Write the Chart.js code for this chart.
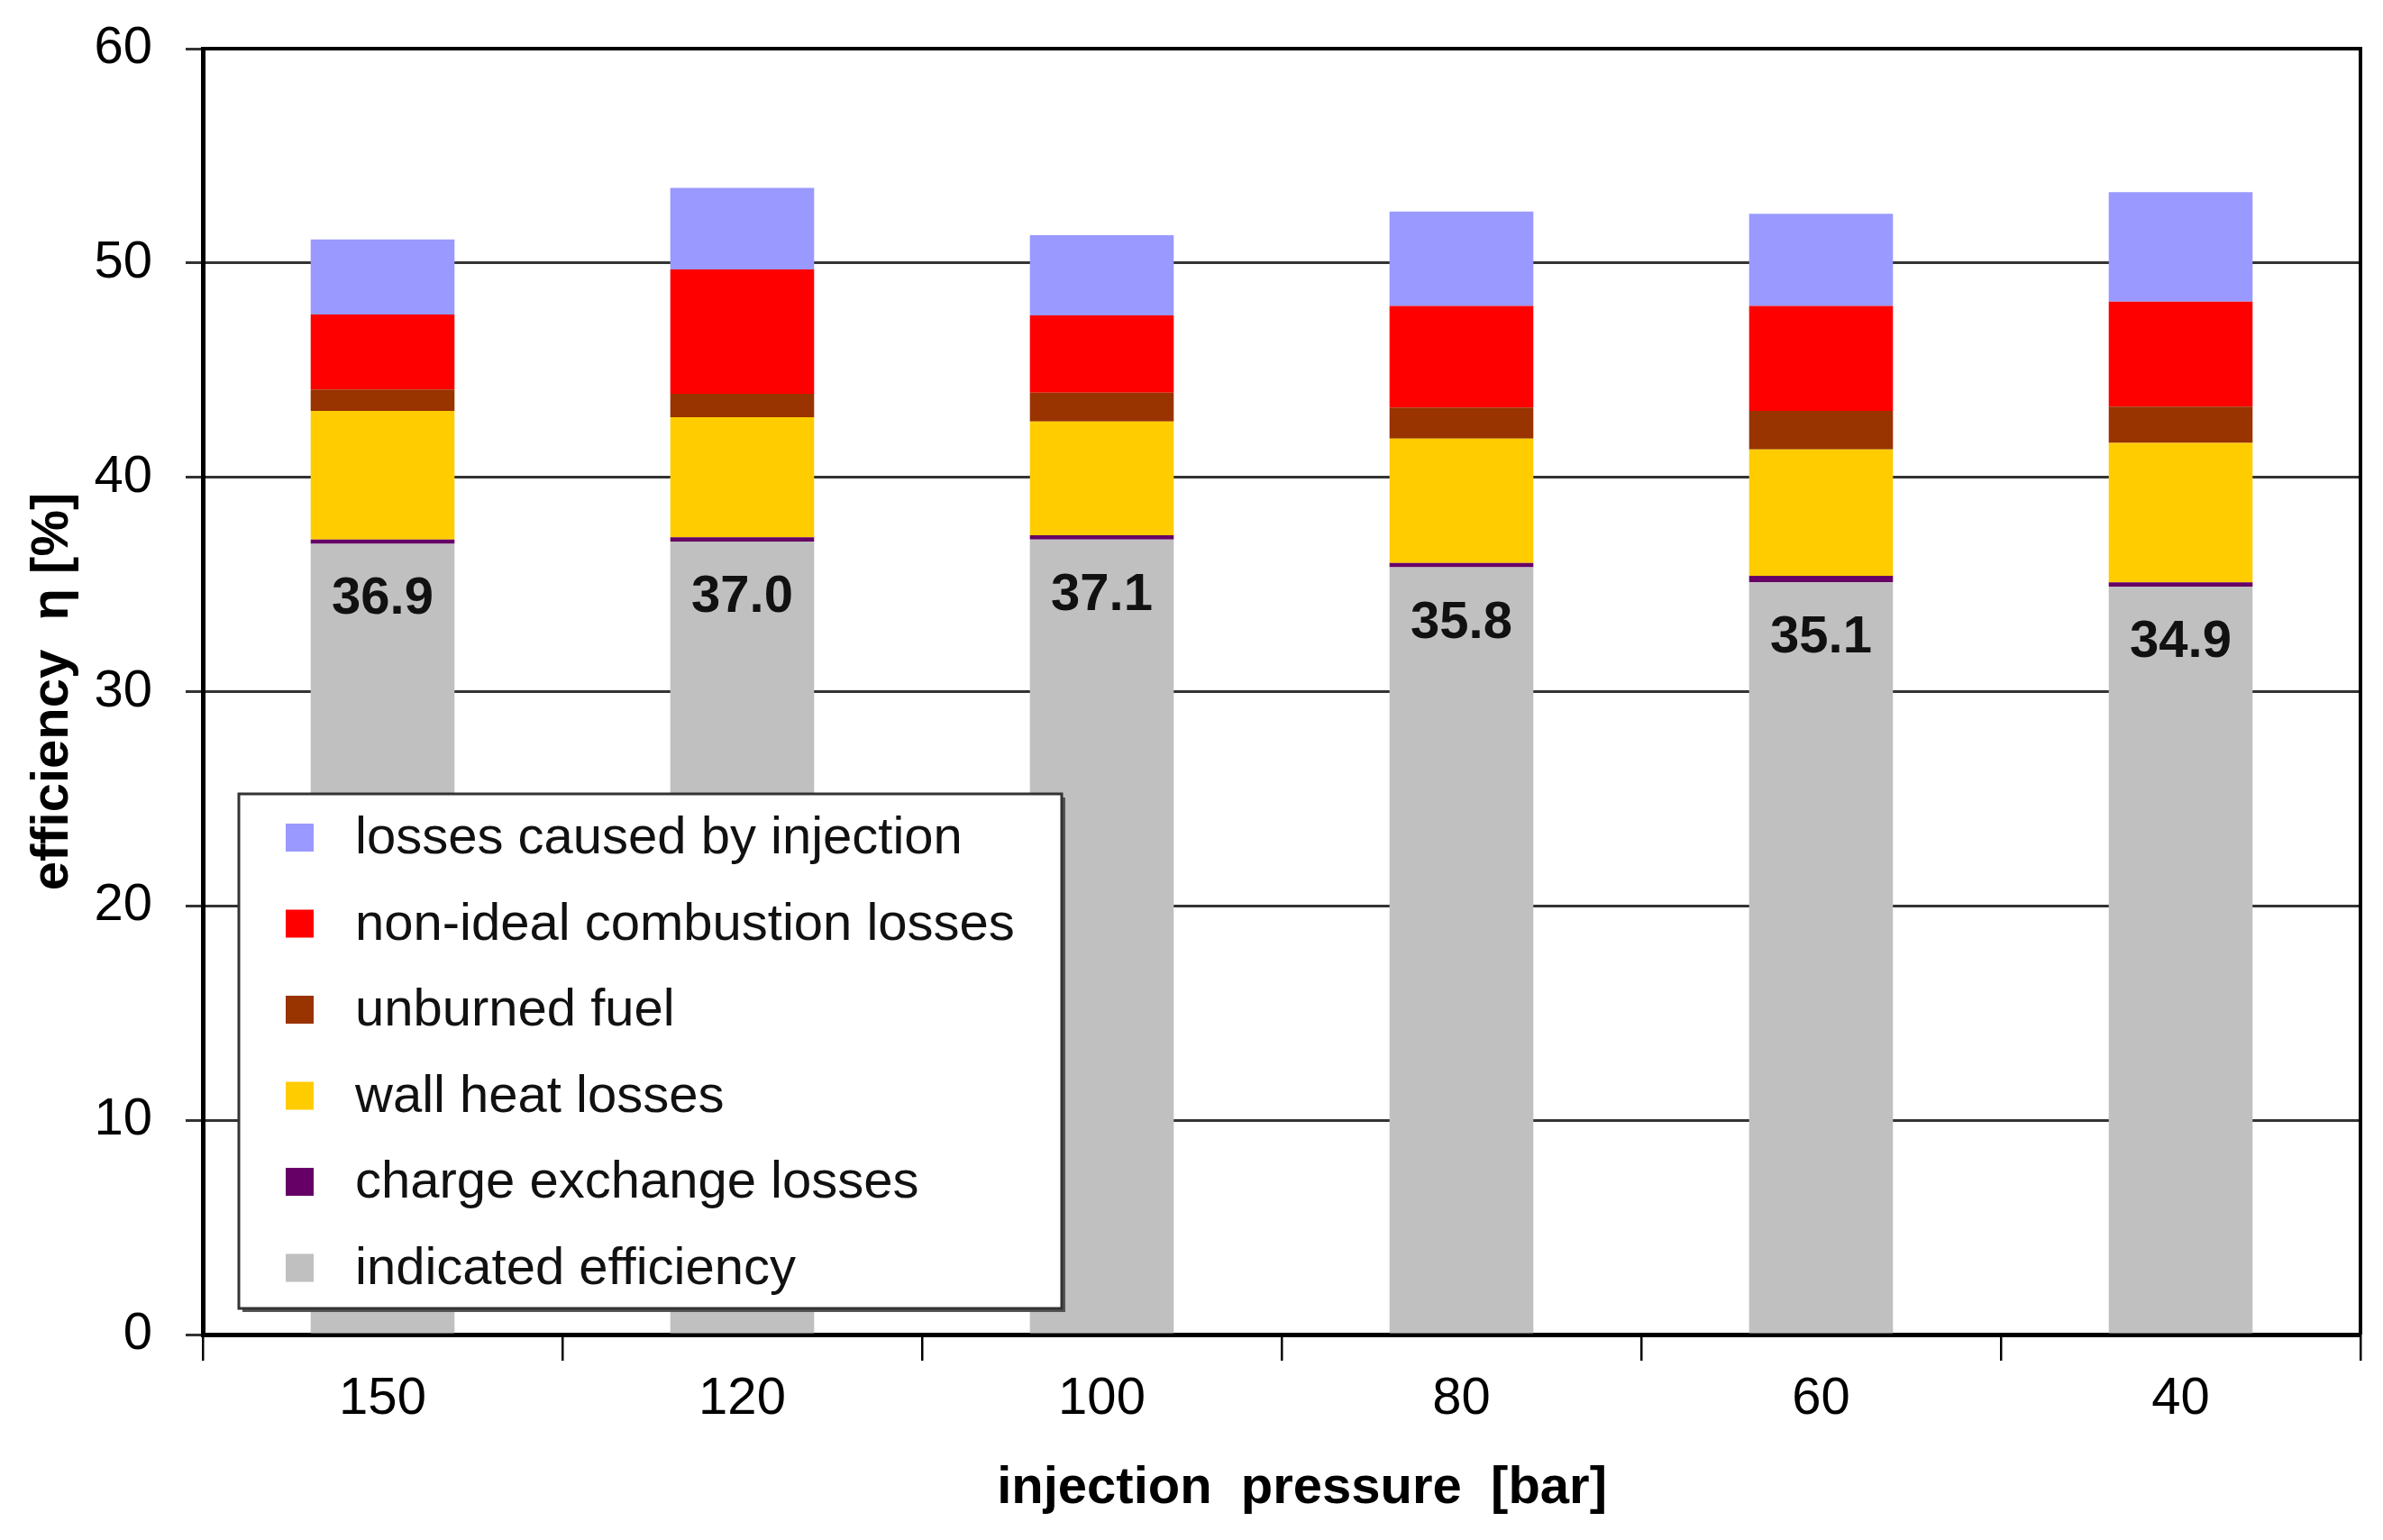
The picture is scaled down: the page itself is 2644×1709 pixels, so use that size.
<!DOCTYPE html>
<html>
<head>
<meta charset="utf-8">
<script src="https://cdn.jsdelivr.net/npm/chart.js@4.4.1/dist/chart.umd.min.js"></script>
<style>
html,body{margin:0;padding:0;background:#fff;}
#wrap{width:2644px;height:1709px;}
canvas{display:block;}
</style>
</head>
<body>
<div id="wrap"><canvas id="c" width="2644" height="1709"></canvas></div>
<script>
const categories = ["150", "120", "100", "80", "60", "40"];
const indicated  = [36.9, 37.0, 37.1, 35.8, 35.1, 34.9];
const chargeExch = [0.2, 0.2, 0.2, 0.2, 0.3, 0.2];
const wallHeat   = [6.0, 5.6, 5.3, 5.8, 5.9, 6.5];
const unburned   = [1.0, 1.1, 1.35, 1.45, 1.8, 1.7];
const nonIdeal   = [3.5, 5.8, 3.6, 4.75, 4.9, 4.9];
const injection  = [3.5, 3.8, 3.75, 4.4, 4.3, 5.1];
const yTicks = [0, 10, 20, 30, 40, 50, 60];

const FONT = "'Liberation Sans', Arial, Helvetica, sans-serif";

const datasets = [
  {label: "indicated efficiency", data: indicated, backgroundColor: "#C0C0C0"},
  {label: "charge exchange losses", data: chargeExch, backgroundColor: "#660066"},
  {label: "wall heat losses", data: wallHeat, backgroundColor: "#FFCC00"},
  {label: "unburned fuel", data: unburned, backgroundColor: "#993300"},
  {label: "non-ideal combustion losses", data: nonIdeal, backgroundColor: "#FF0000"},
  {label: "losses caused by injection", data: injection, backgroundColor: "#9999FF"}
];
datasets.forEach(d => { d.categoryPercentage = 1.0; d.barPercentage = 0.4; d.borderWidth = 0; });

const framePlugin = {
  id: 'frame',
  afterDraw(chart) {
    const {ctx, chartArea: a} = chart;
    ctx.save();
    ctx.strokeStyle = '#000';
    ctx.lineWidth = 4;
    ctx.beginPath();
    ctx.moveTo(a.left, a.top);
    ctx.lineTo(a.right, a.top);
    ctx.lineTo(a.right, a.bottom);
    ctx.stroke();
    ctx.restore();
  }
};

const valueLabels = {
  id: 'valueLabels',
  afterDatasetsDraw(chart) {
    const {ctx} = chart;
    const meta = chart.getDatasetMeta(0);
    ctx.save();
    ctx.font = "bold 58px " + FONT;
    ctx.fillStyle = '#111';
    ctx.textAlign = 'center';
    ctx.textBaseline = 'middle';
    meta.data.forEach((el, i) => {
      ctx.fillText(indicated[i].toFixed(1), el.x, el.y + 62);
    });
    ctx.restore();
  }
};

const boxLegend = {
  id: 'boxLegend',
  afterDraw(chart) {
    const {ctx, chartArea: a} = chart;
    const x = a.left + 40, y = a.top + 827, w = 913, h = 571;
    ctx.save();
    ctx.fillStyle = '#555';
    ctx.fillRect(x + 4, y + 4, w, h);
    ctx.fillStyle = '#fff';
    ctx.fillRect(x, y, w, h);
    ctx.strokeStyle = '#333';
    ctx.lineWidth = 3;
    ctx.strokeRect(x, y, w, h);
    const ds = chart.data.datasets.slice().reverse();
    ctx.font = "58px " + FONT;
    ctx.textBaseline = 'middle';
    ctx.textAlign = 'left';
    ds.forEach((d, i) => {
      const cy = y + 48 + i * 95.5;
      ctx.fillStyle = d.backgroundColor;
      ctx.fillRect(x + 52, cy - 15, 31, 31);
      ctx.fillStyle = '#111';
      ctx.fillText(d.label, x + 129, cy + 2);
    });
    ctx.restore();
  }
};

new Chart(document.getElementById('c'), {
  type: 'bar',
  data: {labels: categories, datasets: datasets},
  options: {
    responsive: false,
    animation: false,
    devicePixelRatio: 1,
    layout: {padding: {left: 0, right: 25, top: 54, bottom: 0}},
    plugins: {legend: {display: false}, tooltip: {enabled: false}},
    scales: {
      x: {
        stacked: true,
        offset: true,
        afterFit(s) { s.height = 228; s.paddingLeft = 0; s.paddingRight = 0; },
        grid: {offset: true, drawOnChartArea: false, drawTicks: true, tickLength: 29, color: '#000', lineWidth: 2.5},
        border: {display: true, color: '#000', width: 5},
        ticks: {color: '#000', font: {family: FONT, size: 58}, padding: 8},
        title: {display: true, text: '\u2002 injection  pressure  [bar]', color: '#000',
                font: {family: FONT, size: 58, weight: 'bold'}, padding: {top: 0, bottom: 22}}
      },
      y: {
        stacked: true,
        min: 0, max: 60,
        afterFit(s) { s.width = 225; s.paddingTop = 0; s.paddingBottom = 0; },
        afterBuildTicks(s) { s.ticks = yTicks.map(v => ({value: v})); },
        grid: {color: '#333', lineWidth: 3, drawTicks: true, tickLength: 19},
        border: {display: true, color: '#000', width: 5},
        ticks: {color: '#000', font: {family: FONT, size: 58}, padding: 37},
        title: {display: true, text: 'efficiency  η [%]', color: '#000',
                font: {family: FONT, size: 58, weight: 'bold'}, padding: {top: 24, bottom: 0}}
      }
    }
  },
  plugins: [framePlugin, valueLabels, boxLegend]
});
</script>
</body>
</html>
